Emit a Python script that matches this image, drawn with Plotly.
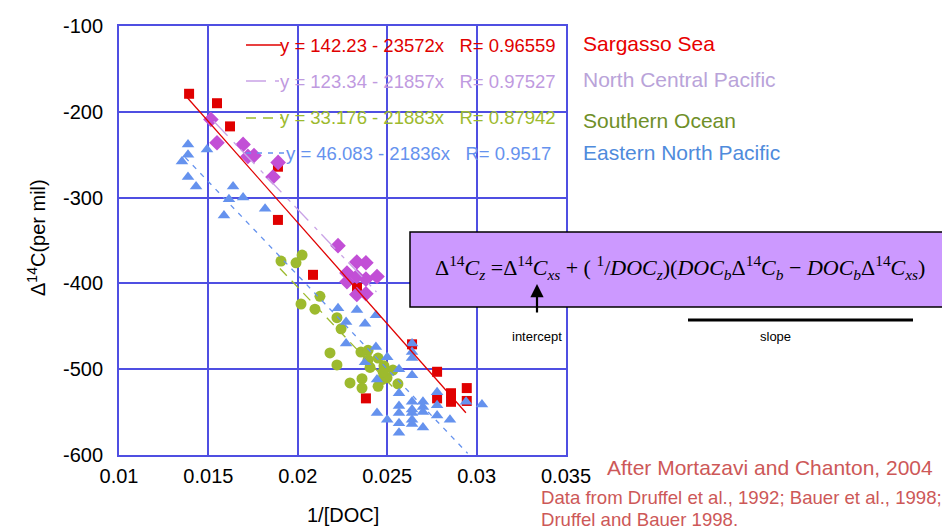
import plotly.graph_objects as go

# ---------------- data ----------------
series_names = ["Sargasso Sea", "North Central Pacific", "Southern Ocean", "Eastern North Pacific"]

ss_x = [0.01392, 0.01548, 0.01621, 0.01889, 0.01889, 0.02085, 0.02331, 0.02639, 0.02381,
        0.02779, 0.02779, 0.02857, 0.02857, 0.02945, 0.02945]
ss_y = [-179, -190, -217, -264, -326, -390, -405, -471, -534,
        -503, -534, -528, -538, -522, -537]

ncp_x = [0.01514, 0.01548, 0.01694, 0.01721, 0.01755, 0.01861, 0.0189,
         0.02225, 0.0233, 0.02381, 0.02275, 0.0233, 0.02381, 0.02443, 0.02275, 0.0233, 0.02381]
ncp_y = [-209, -236, -238, -252, -251, -276, -259,
         -356, -375, -376, -388, -392, -395, -392, -398, -413, -412]

so_x = [0.02024, 0.01906, 0.0199, 0.02124, 0.02018, 0.02096, 0.02219, 0.02242, 0.0218,
        0.02219, 0.02353, 0.02393, 0.02393, 0.02449, 0.02482, 0.02404, 0.02532, 0.02359,
        0.02471, 0.02499, 0.02292, 0.02359, 0.02449, 0.0256, 0.02477]
so_y = [-367, -374, -376, -415, -424, -430, -440, -453, -481,
        -495, -480, -478, -489, -487, -496, -498, -501, -511,
        -512, -510, -516, -522, -520, -517, -503]

enp_x = [0.01386, 0.01386, 0.01352, 0.01492, 0.01386, 0.01431, 0.01638, 0.01615, 0.01694,
         0.01817, 0.01587,
         0.02225, 0.02331, 0.02437, 0.0227, 0.02376, 0.0227, 0.02437,
         0.02639, 0.02639, 0.02639, 0.02639, 0.025, 0.02376, 0.02566, 0.02443,
         0.02566, 0.02779, 0.02639, 0.027, 0.02566, 0.02566, 0.02639, 0.02639, 0.027, 0.027,
         0.02779, 0.02443, 0.025, 0.02566, 0.02566, 0.02639, 0.02639, 0.027, 0.02779,
         0.02851, 0.02941, 0.0303]
enp_y = [-238, -250, -258, -244, -276, -287, -287, -302, -300,
         -313, -321,
         -429, -431, -437, -445, -447, -470, -474,
         -470, -480, -487, -507, -486, -492, -500, -512,
         -528, -527, -538, -538, -543, -551, -547, -551, -544, -550,
         -542, -551, -559, -563, -574, -559, -564, -568, -554,
         -559, -538, -541]

# regression lines as given on the chart
fit_intercept = [142.23, 123.34, 33.176, 46.083]
fit_slope = [-23572, -21857, -21883, -21836]
fit_r = ["0.96559", "0.97527", "0.87942", "0.9517"]
fit_xmin = [0.0138, 0.0153, 0.0190, 0.0137]
fit_xmax = [0.0294, 0.0244, 0.0254, 0.0295]

x_ticks = [0.01, 0.015, 0.02, 0.025, 0.03, 0.035]
x_ticklabels = ["0.01", "0.015", "0.02", "0.025", "0.03", "0.035"]
y_ticks = [-600, -500, -400, -300, -200, -100]
y_ticklabels = ["-600", "-500", "-400", "-300", "-200", "-100"]

# ---------------- styles ----------------
marker_colors = ["#e00000", "#c24fd6", "#9dba2e", "#6592ee"]
marker_symbols = ["square", "diamond", "circle", "triangle-up"]
marker_sizes = [10, 12, 11, 11]
line_colors = ["#e00000", "#c9a3e6", "#9dba2e", "#6592ee"]
line_dashes = ["solid", "20px,9px,4px,6px", "10px,7px", "5px,6px"]
eq_colors = ["#e00000", "#bf9ae0", "#9dba2e", "#6592ee"]
label_colors = ["#e80000", "#b9a3d9", "#6f8f28", "#4f8bdc"]
grid_color = "#4f4fe2"

W, H = 942, 531
L, R, T, B = 119, 566, 26, 455


def px(x):
    return (x - L) / (R - L)


def py(y):
    return (B - y) / (B - T)


fig = go.Figure()

data = [(ss_x, ss_y), (ncp_x, ncp_y), (so_x, so_y), (enp_x, enp_y)]
for i, (xs, ys) in enumerate(data):
    fig.add_trace(go.Scatter(
        x=xs, y=ys, mode="markers", name=series_names[i],
        marker=dict(symbol=marker_symbols[i], size=marker_sizes[i], color=marker_colors[i],
                    line=dict(width=0)),
        showlegend=False, cliponaxis=False))

for i in range(4):
    xs = [fit_xmin[i], fit_xmax[i]]
    ys = [fit_intercept[i] + fit_slope[i] * v for v in xs]
    fig.add_trace(go.Scatter(
        x=xs, y=ys, mode="lines",
        line=dict(color=line_colors[i], width=1.3, dash=line_dashes[i]),
        showlegend=False, hoverinfo="skip"))

annotations = []
shapes = []

# legend rows (equations) and series labels
row_y = [45, 81, 118, 153]
sample_x = [(246, 281), (246, 283), (246, 283), (246, 290)]
eq_right = [558, 558, 558, 553]
for i in range(4):
    shapes.append(dict(type="line", xref="paper", yref="paper",
                       x0=px(sample_x[i][0]), x1=px(sample_x[i][1]), y0=py(row_y[i]), y1=py(row_y[i]),
                       line=dict(color=line_colors[i], width=1.3, dash=line_dashes[i])))
    b = -fit_slope[i]
    eq = f"y = {fit_intercept[i]:g} - {b}x   R= {fit_r[i]}"
    annotations.append(dict(xref="paper", yref="paper", x=px(eq_right[i]), y=py(row_y[i]),
                            xanchor="right", yanchor="middle", showarrow=False, text=eq,
                            font=dict(family="Liberation Sans, Arial", size=18.5, color=eq_colors[i])))
label_y = [43, 80, 120, 152]
for i in range(4):
    annotations.append(dict(xref="paper", yref="paper", x=px(581), y=py(label_y[i]),
                            xanchor="left", yanchor="middle", showarrow=False, text=series_names[i],
                            font=dict(family="Liberation Sans, Arial", size=21, color=label_colors[i])))

# formula box
shapes.append(dict(type="rect", xref="paper", yref="paper", x0=px(410), x1=px(948),
                   y0=py(307), y1=py(232), fillcolor="#cc99ff", line=dict(color="black", width=1.5),
                   layer="above"))
formula = ("Δ<sup>14</sup><i>C</i><sub><i>z</i></sub> =Δ<sup>14</sup><i>C</i><sub><i>xs</i></sub>"
           " + ( <sup>1</sup>/<i>DOC</i><sub><i>z</i></sub>)(<i>DOC</i><sub><i>b</i></sub>"
           "Δ<sup>14</sup><i>C</i><sub><i>b</i></sub> − <i>DOC</i><sub><i>b</i></sub>"
           "Δ<sup>14</sup><i>C</i><sub><i>xs</i></sub>)")
annotations.append(dict(xref="paper", yref="paper", x=px(433), y=py(267), xanchor="left",
                        yanchor="middle", showarrow=False, text=formula,
                        font=dict(family="Liberation Serif, Times New Roman", size=22, color="black")))
# intercept arrow
annotations.append(dict(xref="paper", yref="paper", x=px(537), y=py(284), ax=0, ay=30,
                        showarrow=True, arrowhead=2, arrowsize=1.2, arrowwidth=2.2, arrowcolor="black",
                        text=""))
annotations.append(dict(xref="paper", yref="paper", x=px(537), y=py(336), xanchor="center",
                        yanchor="middle", showarrow=False, text="intercept",
                        font=dict(family="Liberation Sans, Arial", size=13, color="black")))
shapes.append(dict(type="line", xref="paper", yref="paper", x0=px(688), x1=px(913),
                   y0=py(320), y1=py(320), line=dict(color="black", width=3)))
annotations.append(dict(xref="paper", yref="paper", x=px(775), y=py(336), xanchor="center",
                        yanchor="middle", showarrow=False, text="slope",
                        font=dict(family="Liberation Sans, Arial", size=13, color="black")))

# axis titles
annotations.append(dict(xref="paper", yref="paper", x=px(36), y=py(238), textangle=-90,
                        xanchor="center", yanchor="middle", showarrow=False,
                        text="Δ<sup>14</sup>C(per mil)",
                        font=dict(family="Liberation Sans, Arial", size=20, color="black")))
annotations.append(dict(xref="paper", yref="paper", x=px(343), y=py(515), xanchor="center",
                        yanchor="middle", showarrow=False, text="1/[DOC]",
                        font=dict(family="Liberation Sans, Arial", size=20, color="black")))

# source text
src_color = "#cd5858"
annotations.append(dict(xref="paper", yref="paper", x=px(605), y=py(467), xanchor="left",
                        yanchor="middle", showarrow=False, text="After Mortazavi and Chanton, 2004",
                        font=dict(family="Liberation Sans Narrow, Liberation Sans, Arial", size=21,
                                  color=src_color)))
annotations.append(dict(xref="paper", yref="paper", x=px(539), y=py(497), xanchor="left",
                        yanchor="middle", showarrow=False,
                        text="Data from Druffel et al., 1992; Bauer et al., 1998;",
                        font=dict(family="Liberation Sans Narrow, Liberation Sans, Arial", size=18.6,
                                  color=src_color)))
annotations.append(dict(xref="paper", yref="paper", x=px(539), y=py(519), xanchor="left",
                        yanchor="middle", showarrow=False, text="Druffel and Bauer 1998.",
                        font=dict(family="Liberation Sans Narrow, Liberation Sans, Arial", size=18.6,
                                  color=src_color)))

fig.update_layout(
    width=W, height=H,
    margin=dict(l=L, r=W - R, t=T, b=H - B),
    paper_bgcolor="white", plot_bgcolor="white",
    font=dict(family="Liberation Sans, Arial", size=20, color="black"),
    shapes=shapes, annotations=annotations,
    xaxis=dict(range=[0.01, 0.035], tickvals=x_ticks, ticktext=x_ticklabels,
               showgrid=True, gridcolor=grid_color, gridwidth=2,
               showline=True, linecolor=grid_color, linewidth=2, mirror=True,
               zeroline=False, ticks="", ticklabelstandoff=2,
               tickfont=dict(size=20, color="black")),
    yaxis=dict(range=[-600, -100], tickvals=y_ticks, ticktext=y_ticklabels,
               showgrid=True, gridcolor=grid_color, gridwidth=2,
               showline=True, linecolor=grid_color, linewidth=2, mirror=True,
               zeroline=False, ticks="", ticklabelstandoff=10,
               tickfont=dict(size=20, color="black")),
)

fig.write_html("out.html", config={"displayModeBar": False},
               post_script="document.body.style.margin='0';")
